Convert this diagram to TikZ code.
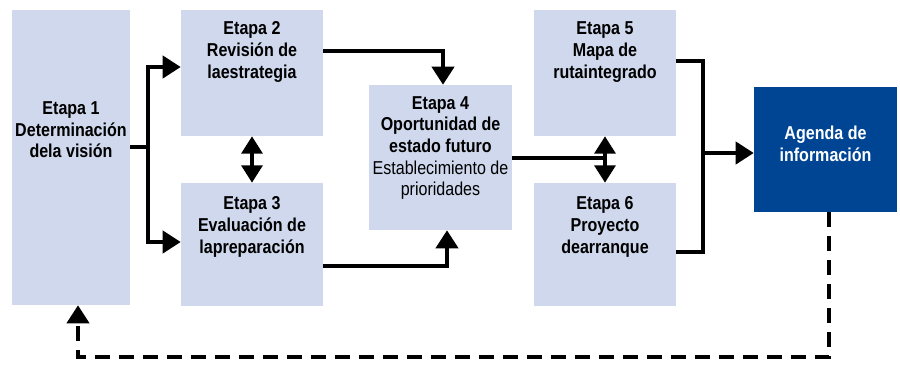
\documentclass[tikz,border=0pt]{standalone}
\usepackage{fontspec}
\setmainfont{Liberation Sans}[FakeStretch=0.86]
\usetikzlibrary{arrows.meta}
\definecolor{stagefill}{RGB}{207,216,236}
\definecolor{agendafill}{RGB}{0,68,148}
\tikzset{
  stagebox/.style={fill=stagefill, draw=none, inner sep=0pt},
  stagetext/.style={align=center, inner sep=0pt, font=\bfseries\fontsize{14}{16.2}\selectfont},
  link/.style={line width=3pt},
  arr/.style={link, -{Triangle[length=13.5pt,width=16.5pt]}},
  dblarr/.style={link, {Triangle[length=13pt,width=15.5pt]}-{Triangle[length=13pt,width=15.5pt]}}
}
\begin{document}
\begin{tikzpicture}[x=0.75pt, y=-0.75pt]
    \useasboundingbox (0,0) rectangle (900,365);
    % stages
    \node[stagebox, minimum width=88.5pt, minimum height=221.25pt] (e1) at (71,157.5) {};
    \node[stagebox, minimum width=106.5pt, minimum height=94.5pt] (e2) at (252,73) {};
    \node[stagebox, minimum width=106.5pt, minimum height=92.25pt] (e3) at (252,244.5) {};
    \node[stagebox, minimum width=107.25pt, minimum height=108.75pt] (e4) at (440.5,157.5) {};
    \node[stagebox, minimum width=106.5pt, minimum height=94.5pt] (e5) at (605,73) {};
    \node[stagebox, minimum width=106.5pt, minimum height=92.25pt] (e6) at (605,244.5) {};
    \node[stagebox, fill=agendafill, minimum width=107.25pt, minimum height=93.75pt] (ag) at (825.5,149.5) {};
    % texts
    \node[stagetext] (t1) at (71,130) {Etapa 1\\Determinación\\dela visión};
    \node[stagetext] (t2) at (252,52) {Etapa 2\\Revisión de\\laestrategia};
    \node[stagetext] (t3) at (252,227) {Etapa 3\\Evaluación de\\lapreparación};
    \node[stagetext] (t4) at (440.5,148) {Etapa 4\\Oportunidad de\\estado futuro\\\mdseries Establecimiento de\\\mdseries prioridades};
    \node[stagetext] (t5) at (605,52) {Etapa 5\\Mapa de\\rutaintegrado};
    \node[stagetext] (t6) at (605,227) {Etapa 6\\Proyecto\\dearranque};
    \node[stagetext, text=white] (t7) at (825.5,144) {Agenda de\\información};
    % connectors
    \coordinate (fk) at (148,147);
    \coordinate (jn) at (703,153);
    \draw[link] (e1.east |- fk) -- (fk);
    \draw[arr] (fk) |- (e2.west |- 0,67);
    \draw[arr] (fk) |- (e3.west |- 0,242);
    \draw[dblarr] (e2.south) -- (e3.north);
    \draw[arr] (e2.east |- 0,51) -| (443,0 |- e4.north);
    \draw[arr] (e3.east |- 0,266) -| (447,0 |- e4.south);
    \draw[link] (e4.east |- 0,158) -- (e5.south |- 0,158);
    \draw[dblarr] (e5.south) -- (e6.north);
    \draw[link] (e5.east |- 0,61) -| (jn |- 0,252) -- (e6.east |- 0,252);
    \draw[link] (jn |- 0,61) -- (jn);
    \draw[arr] (jn) -- (ag.west |- jn);
    \draw[arr, dash pattern=on 11pt off 7pt] (ag.south -| 829,0) -- (829,357) -| (e1.south -| 78,0);
\end{tikzpicture}
\end{document}
